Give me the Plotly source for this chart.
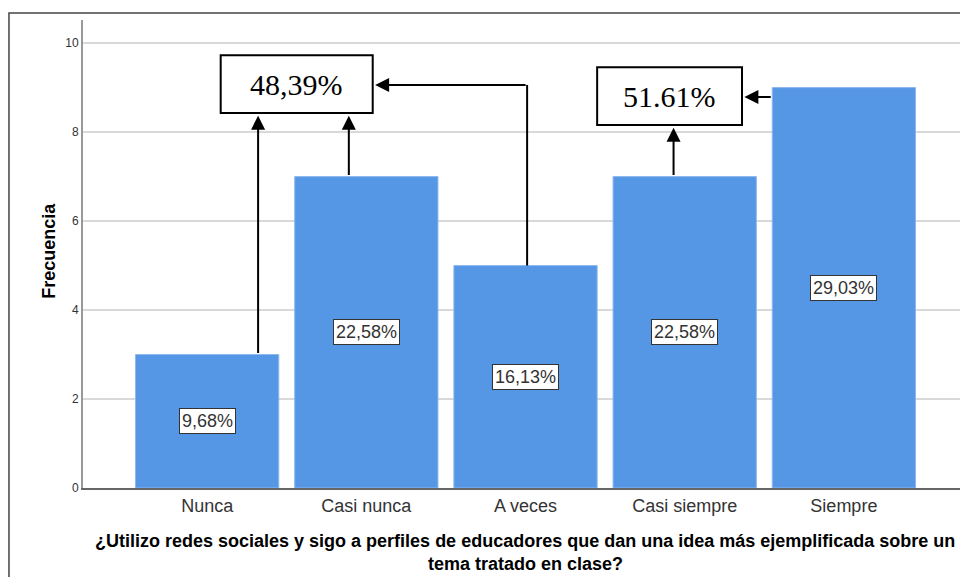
import plotly.graph_objects as go

categories = ["Nunca", "Casi nunca", "A veces", "Casi siempre", "Siempre"]
frecuencia = [3, 7, 5, 7, 9]
porcentajes = ["9,68%", "22,58%", "16,13%", "22,58%", "29,03%"]
grupo_bajo = "48,39%"
grupo_alto = "51.61%"

bar_color = "#5596e5"
x_title_1 = "¿Utilizo redes sociales y sigo a perfiles de educadores que dan una idea más ejemplificada sobre un"
x_title_2 = "tema tratado en clase?"

fig = go.Figure(go.Bar(
    x=list(range(len(categories))), y=frecuencia, width=0.9,
    marker=dict(color=bar_color, line=dict(color="#8cb8ee", width=1)),
    hoverinfo="skip",
))

# etiquetas de porcentaje dentro de cada barra
for i, (v, p) in enumerate(zip(frecuencia, porcentajes)):
    fig.add_annotation(x=i, y=v / 2, text=p, showarrow=False,
                       font=dict(family="Arial, Liberation Sans", size=18, color="#333333"),
                       bgcolor="white", bordercolor="#333333", borderwidth=1, borderpad=2)

# cajas de resumen
serif = dict(family="Liberation Serif, Times New Roman, serif", size=30, color="black")
fig.add_shape(type="rect", xref="x", yref="y", x0=0.085, x1=1.04, y0=8.43, y1=9.73,
              line=dict(color="black", width=2), fillcolor="white")
fig.add_annotation(x=0.56, y=9.08, text=grupo_bajo, showarrow=False, font=serif)
fig.add_shape(type="rect", xref="x", yref="y", x0=2.45, x1=3.36, y0=8.16, y1=9.46,
              line=dict(color="black", width=2), fillcolor="white")
fig.add_annotation(x=2.905, y=8.81, text=grupo_alto, showarrow=False, font=serif)

arrow = dict(showarrow=True, arrowhead=2, arrowsize=1.4, arrowwidth=2, arrowcolor="black",
             axref="x", ayref="y", text="", standoff=0)

# flechas hacia "48,39%"
fig.add_annotation(x=0.32, y=8.37, ax=0.32, ay=frecuencia[0], **arrow)
fig.add_annotation(x=0.89, y=8.37, ax=0.89, ay=frecuencia[1], **arrow)
fig.add_shape(type="line", xref="x", yref="y", x0=2.01, x1=2.01, y0=frecuencia[2], y1=9.06,
              line=dict(color="black", width=2))
fig.add_annotation(x=1.055, y=9.06, ax=2.01, ay=9.06, **arrow)

# flechas hacia "51.61%"
fig.add_annotation(x=2.93, y=8.1, ax=2.93, ay=frecuencia[3], **arrow)
fig.add_annotation(x=3.375, y=8.79, ax=3.55, ay=8.79, **arrow)

# titulos de ejes
title_font = dict(family="Arial, Liberation Sans", size=18, color="black", weight="bold")
fig.add_annotation(xref="paper", yref="paper", x=0.495, y=-0.113, text=x_title_1,
                   showarrow=False, font=title_font, yanchor="middle")
fig.add_annotation(xref="paper", yref="paper", x=0.495, y=-0.162, text=x_title_2,
                   showarrow=False, font=title_font, yanchor="middle")
fig.add_annotation(xref="paper", yref="paper", x=-0.051, y=0.508, text="Frecuencia",
                   showarrow=False, font=title_font, textangle=-90)

# marco exterior
fig.add_shape(type="rect", xref="paper", yref="paper", x0=-0.0829, x1=1.01, y0=-0.25, y1=1.015,
              line=dict(color="#444444", width=1.5), layer="below")

fig.update_layout(
    width=968, height=577,
    margin=dict(l=75, r=0, t=12, b=97),
    plot_bgcolor="white", paper_bgcolor="white",
    showlegend=False,
    font=dict(family="Arial, Liberation Sans", color="#333333"),
    xaxis=dict(
        tickmode="array", tickvals=list(range(len(categories))), ticktext=categories,
        range=[-0.78, 4.83], showgrid=False, zeroline=False,
        showline=True, linecolor="#666666", linewidth=2,
        tickfont=dict(size=18, color="#333333"), ticks="", automargin=False,
    ),
    yaxis=dict(
        range=[0, 10.52], tickvals=[0, 2, 4, 6, 8, 10],
        showgrid=True, gridcolor="#d9d9d9", gridwidth=1.5, zeroline=False,
        showline=True, linecolor="#999999", linewidth=2,
        tickfont=dict(size=12, color="#333333"), ticks="", automargin=False,
    ),
)

fig.write_html("out.html")
